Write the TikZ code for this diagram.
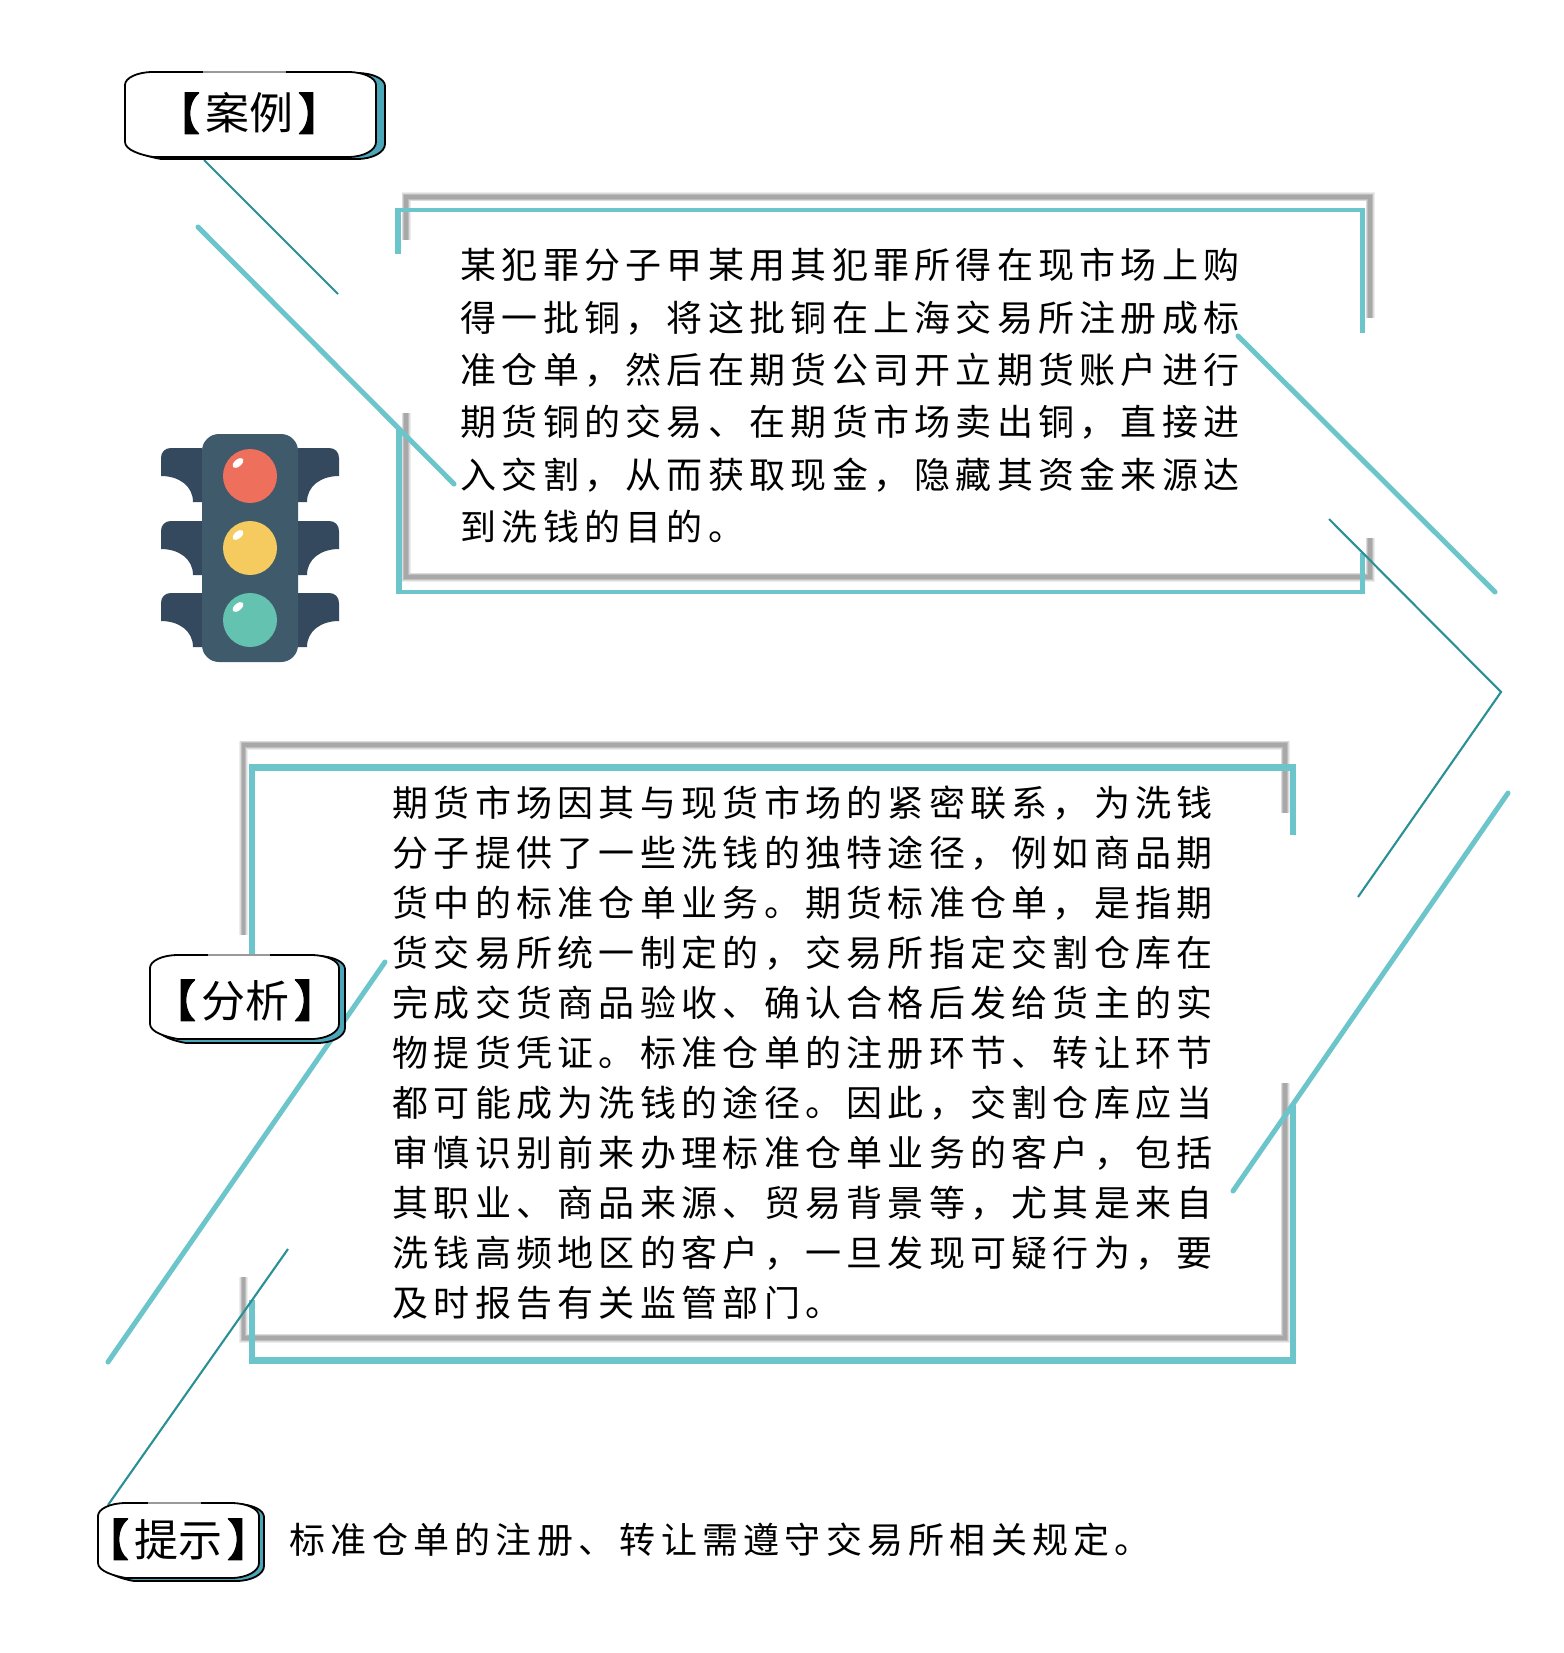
\documentclass[tikz,border=0pt]{standalone}
\usepackage{fontspec}
\newfontfamily\cjk{Noto Sans CJK SC}
\newfontfamily\cjkb[FakeBold=2.5]{Noto Sans CJK SC}
\newfontfamily\cjksp[LetterSpace=14.6]{Noto Sans CJK SC}
\definecolor{tealA}{HTML}{6CC5CA}
\definecolor{tealB}{HTML}{2A9096}
\definecolor{tealC}{HTML}{4BA6B8}
\definecolor{wing}{HTML}{34495E}
\definecolor{body}{HTML}{3F5A6B}
\definecolor{lred}{HTML}{EE6F5B}
\definecolor{lyel}{HTML}{F5CB60}
\definecolor{lgrn}{HTML}{63C2B0}
\tikzset{
  graybar/.style={draw=black!34,line width=3.4,line cap=butt,
    preaction={draw=black!7,line width=9},
    preaction={draw=black!14,line width=7.2},
    preaction={draw=black!26,line width=5.4}},
  thickline/.style={draw=tealA,line width=5,line cap=round},
  thinline/.style={draw=tealB,line width=2.1},
  tealbar/.style={fill=tealA},
  bodytext/.style={inner sep=0pt,anchor=base west,font=\cjksp\fontsize{36}{36}\selectfont},
  labeltext/.style={inner sep=0pt,anchor=base,font=\cjk\fontsize{44}{44}\selectfont}
}
\newcommand\pillpath[4]{(#1+28,#2) -- (#3-28,#2) .. controls (#3-12,#2) and (#3,#2+6) .. (#3,#2+13) -- (#3,#4-15) .. controls (#3,#4-7) and (#3-12,#4) .. (#3-28,#4) -- (#1+28,#4) .. controls (#1+16,#4-2) and (#1,#4-7) .. (#1,#4-15) -- (#1,#2+13) .. controls (#1,#2+6) and (#1+12,#2) .. (#1+28,#2) -- cycle}
% x0 y0 x1 y1 backx backy gapa gapb
\newcommand\labelbox[8]{%
  \draw[fill=tealC,draw=black,line width=1.8] \pillpath{#1+8}{#2+1}{#5}{#6};
  \draw[fill=white,draw=black,line width=1.8] \pillpath{#1}{#2}{#3}{#4};
  \draw[draw=black!40,line width=1.2] (#7,#2) -- (#8,#2);
}
\newcommand\lamp[3]{%
  \fill[#3] (#1,#2) circle (27);
  \fill[white,rotate around={40:(#1-12,#2-13)}] (#1-12,#2-13) ellipse (6.5 and 3.5);
}
\newcommand\wings[1]{%
  \fill[wing] (202,#1) -- (171,#1) .. controls (165,#1) and (161,#1+4) .. (161,#1+10) -- (161,#1+28) .. controls (179,#1+28) and (193,#1+38) .. (193,#1+54) -- (202,#1+54) -- cycle;
  \fill[wing] (298,#1) -- (329,#1) .. controls (335,#1) and (339,#1+4) .. (339,#1+10) -- (339,#1+28) .. controls (321,#1+28) and (307,#1+38) .. (307,#1+54) -- (298,#1+54) -- cycle;
}
\newcommand\lb{{\cjkb 【}\hspace{5pt}}
\newcommand\rb{\hspace{5pt}{\cjkb 】}}
\begin{document}
\begin{tikzpicture}[x=1pt,y=-1pt]
\useasboundingbox[fill=white] (0,0) rectangle (1563,1653);
% gray frames
\draw[graybar] (406,240) -- (406,197) -- (1370,197) -- (1370,318);
\draw[graybar] (406,413) -- (406,577) -- (1370,577) -- (1370,538);
\draw[graybar] (243.5,935) -- (243.5,745) -- (1285,745) -- (1285,813);
\draw[graybar] (243.5,1277) -- (243.5,1338) -- (1285,1338) -- (1285,1083);
% teal frames
\fill[tealbar] (395,208) rectangle (1365,212);
\fill[tealbar] (395,208) rectangle (401,254);
\fill[tealbar] (1360,208) rectangle (1365,333);
\fill[tealbar] (396,428) rectangle (402,594);
\fill[tealbar] (396,590) rectangle (1365,594);
\fill[tealbar] (1360,553) rectangle (1365,594);
\fill[tealbar] (249,764) rectangle (1296,771);
\fill[tealbar] (249,764) rectangle (255,960);
\fill[tealbar] (1290,764) rectangle (1296,835);
\fill[tealbar] (249,1300) rectangle (255,1364);
\fill[tealbar] (1290,1105) rectangle (1296,1364);
\fill[tealbar] (249,1357) rectangle (1296,1364);
% diagonal lines
\draw[thickline] (198,227) -- (454,484);
\draw[thickline] (1238,336) -- (1495,592);
\draw[thickline] (385,962) -- (108,1362);
\draw[thickline] (1508,793) -- (1233,1191);
\draw[thinline] (204,160) -- (338,294);
\draw[thinline] (1329,519) -- (1501,692) -- (1358,897);
\draw[thinline] (288,1249) -- (108,1505);
% traffic light
\wings{448}\wings{521}\wings{593}
\fill[body,rounded corners=17] (202,434) rectangle (298,662);
\lamp{250}{476}{lred}
\lamp{250}{548}{lyel}
\lamp{250}{620}{lgrn}
% labels
\labelbox{125}{72}{376}{157}{385}{159}{203}{286}
\labelbox{150}{955}{339}{1039}{345}{1043}{208}{270}
\labelbox{98}{1503}{259}{1578}{264}{1581}{148}{201}
\node[labeltext] (caseLabel) at (249,130) {\lb 案例\rb};
\node[labeltext] (analysisLabel) at (245,1017) {\lb 分析\rb};
\node[labeltext] (tipLabel) at (178,1556) {\lb 提示\rb};
% body text
\node[bodytext] (c1) at (460.5,278.7) {某犯罪分子甲某用其犯罪所得在现市场上购};
\node[bodytext] (c2) at (460.5,331.1) {得一批铜，将这批铜在上海交易所注册成标};
\node[bodytext] (c3) at (460.5,383.5) {准仓单，然后在期货公司开立期货账户进行};
\node[bodytext] (c4) at (460.5,435.9) {期货铜的交易、在期货市场卖出铜，直接进};
\node[bodytext] (c5) at (460.5,488.3) {入交割，从而获取现金，隐藏其资金来源达};
\node[bodytext] (c6) at (460.5,540.7) {到洗钱的目的。};
\node[bodytext] (a1) at (392.5,816.7) {期货市场因其与现货市场的紧密联系，为洗钱};
\node[bodytext] (a2) at (392.5,866.7) {分子提供了一些洗钱的独特途径，例如商品期};
\node[bodytext] (a3) at (392.5,916.7) {货中的标准仓单业务。期货标准仓单，是指期};
\node[bodytext] (a4) at (392.5,966.7) {货交易所统一制定的，交易所指定交割仓库在};
\node[bodytext] (a5) at (392.5,1016.7) {完成交货商品验收、确认合格后发给货主的实};
\node[bodytext] (a6) at (392.5,1066.7) {物提货凭证。标准仓单的注册环节、转让环节};
\node[bodytext] (a7) at (392.5,1116.7) {都可能成为洗钱的途径。因此，交割仓库应当};
\node[bodytext] (a8) at (392.5,1166.7) {审慎识别前来办理标准仓单业务的客户，包括};
\node[bodytext] (a9) at (392.5,1216.7) {其职业、商品来源、贸易背景等，尤其是来自};
\node[bodytext] (a10) at (392.5,1266.7) {洗钱高频地区的客户，一旦发现可疑行为，要};
\node[bodytext] (a11) at (392.5,1316.7) {及时报告有关监管部门。};
\node[bodytext] (t1) at (289.5,1553.2) {标准仓单的注册、转让需遵守交易所相关规定。};
\end{tikzpicture}
\end{document}
